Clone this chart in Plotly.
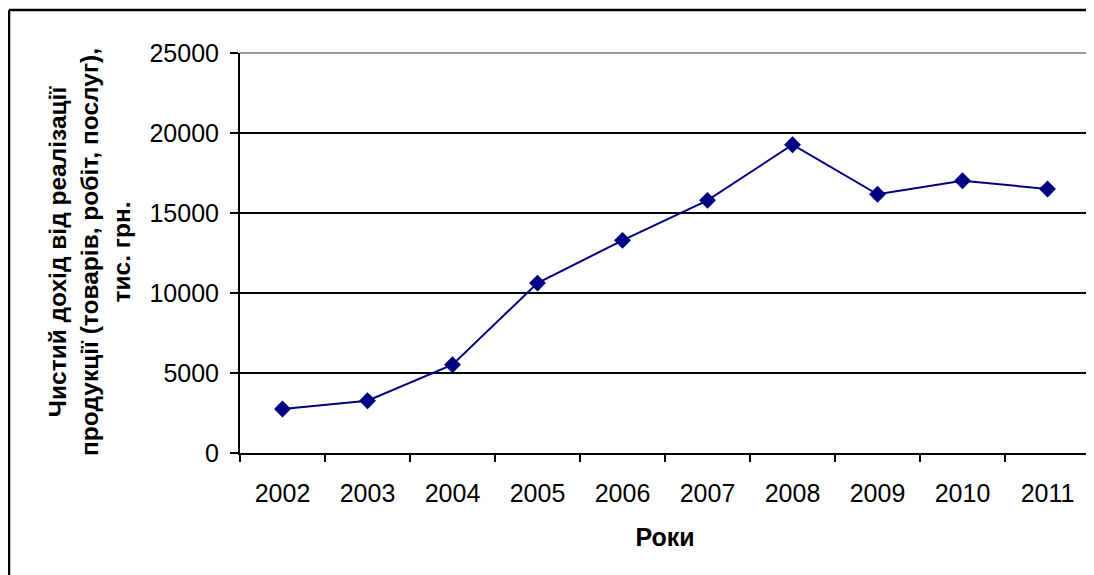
import plotly.graph_objects as go

years = ["2002", "2003", "2004", "2005", "2006", "2007", "2008", "2009", "2010", "2011"]
income = [2750, 3270, 5520, 10620, 13290, 15790, 19270, 16170, 17020, 16500]
y_ticks = [0, 5000, 10000, 15000, 20000, 25000]

y_title = "Чистий дохід від реалізації<br>продукції (товарів, робіт, послуг),<br>тис. грн."
x_title = "Роки"

FONT = "Liberation Sans, Arial, sans-serif"
OFF = 8  # page body margin
W, H = 1094 - OFF, 575 - OFF
L, R, T, B = 240 - OFF, 4, 53 - OFF, 122
pw, ph = W - L - R, H - T - B

def px_x(px):
    # px given in page (screenshot) coordinates
    return (px - OFF - L) / pw

def px_y(py):
    return (H - B - (py - OFF)) / ph

fig = go.Figure()
fig.add_trace(go.Scatter(
    x=years, y=income, mode="lines+markers",
    line=dict(color="#000080", width=2),
    marker=dict(symbol="diamond", size=13, color="#000080"),
    showlegend=False,
))

fig.update_layout(
    width=W, height=H,
    margin=dict(l=L, r=R, t=T, b=B, pad=0),
    paper_bgcolor="white", plot_bgcolor="white",
    font=dict(family=FONT, color="black", size=25),
    xaxis=dict(
        type="category", tickson="boundaries",
        showgrid=False, showline=True, linecolor="black", linewidth=2,
        ticks="outside", ticklen=7, tickwidth=1.5, tickcolor="black",
        tickfont=dict(size=25), ticklabelstandoff=17,
        title=dict(text=x_title, font=dict(size=25, family=FONT, weight="bold"), standoff=22),
        range=[-0.5, 9.5], zeroline=False,
    ),
    yaxis=dict(
        range=[0, 25000], tickvals=y_ticks, tickformat="d",
        showgrid=True, gridcolor="black", gridwidth=1.6,
        showline=True, linecolor="black", linewidth=2,
        ticks="outside", ticklen=8, tickwidth=1.5, tickcolor="black",
        tickfont=dict(size=25), ticklabelstandoff=6,
        zeroline=False,
    ),
    annotations=[dict(
        text=y_title, textangle=-90, xref="paper", yref="paper",
        x=px_x(89), y=px_y(252), xanchor="center", yanchor="middle",
        showarrow=False, align="center",
        font=dict(size=24.5, family=FONT, weight="bold", color="black"),
    )],
    shapes=[
        dict(type="line", xref="paper", yref="paper", x0=0, x1=1, y0=1, y1=1,
             line=dict(color="#999999", width=2), layer="above"),
        dict(type="line", xref="paper", yref="paper", x0=1, x1=1, y0=0, y1=1,
             line=dict(color="#999999", width=2), layer="above"),
        dict(type="line", xref="paper", yref="paper", x0=px_x(9), x1=px_x(1100),
             y0=px_y(10), y1=px_y(10), line=dict(color="black", width=2.5)),
        dict(type="line", xref="paper", yref="paper", x0=px_x(9), x1=px_x(9),
             y0=px_y(10), y1=px_y(580), line=dict(color="black", width=2.5)),
    ],
)

fig.write_html("out.html")
